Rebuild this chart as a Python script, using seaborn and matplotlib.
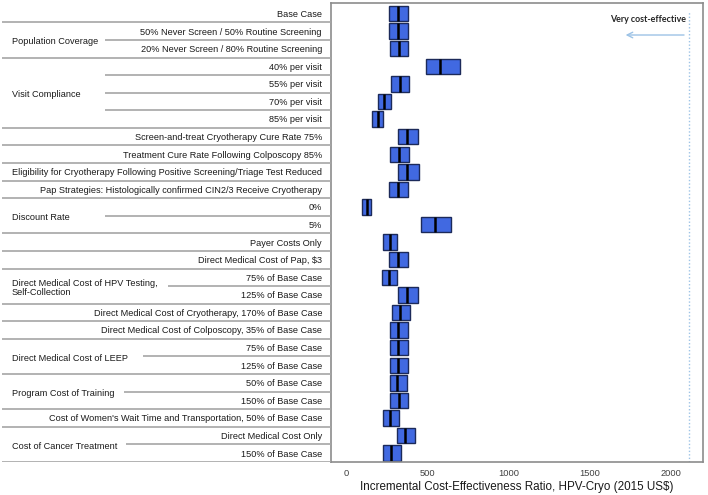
import pandas as pd
import seaborn as sns
import matplotlib.pyplot as plt

# one-way sensitivity analysis, HPV-Cryo ICER (2015 US$)
row_labels = [
    "Base Case",
    "50% Never Screen / 50% Routine Screening",
    "20% Never Screen / 80% Routine Screening",
    "40% per visit",
    "55% per visit",
    "70% per visit",
    "85% per visit",
    "Screen-and-treat Cryotherapy Cure Rate 75%",
    "Treatment Cure Rate Following Colposcopy 85%",
    "Eligibility for Cryotherapy Following Positive Screening/Triage Test Reduced",
    "Pap Strategies: Histologically confirmed CIN2/3 Receive Cryotherapy",
    "0%",
    "5%",
    "Payer Costs Only",
    "Direct Medical Cost of Pap, $3",
    "75% of Base Case",
    "125% of Base Case",
    "Direct Medical Cost of Cryotherapy, 170% of Base Case",
    "Direct Medical Cost of Colposcopy, 35% of Base Case",
    "75% of Base Case",
    "125% of Base Case",
    "50% of Base Case",
    "150% of Base Case",
    "Cost of Women's Wait Time and Transportation, 50% of Base Case",
    "Direct Medical Cost Only",
    "150% of Base Case",
]
row_groups = [
    None,
    "Population Coverage", "Population Coverage",
    "Visit Compliance", "Visit Compliance", "Visit Compliance", "Visit Compliance",
    None, None, None, None,
    "Discount Rate", "Discount Rate",
    None, None,
    "Direct Medical Cost of HPV Testing,\nSelf-Collection",
    "Direct Medical Cost of HPV Testing,\nSelf-Collection",
    None, None,
    "Direct Medical Cost of LEEP", "Direct Medical Cost of LEEP",
    "Program Cost of Training", "Program Cost of Training",
    None,
    "Cost of Cancer Treatment", "Cost of Cancer Treatment",
]
icer_low = [263, 263, 269, 489, 273, 195, 154, 317, 267, 317, 263, 96, 458,
            226, 263, 218, 315, 280, 265, 265, 265, 265, 269, 224, 310, 224]
icer_base = [316, 316, 321, 577, 329, 230, 191, 374, 321, 374, 316, 123, 545,
             267, 316, 261, 374, 329, 318, 318, 318, 312, 321, 267, 362, 273]
icer_high = [376, 376, 376, 697, 386, 275, 222, 442, 383, 448, 376, 152, 645,
             312, 376, 312, 438, 391, 376, 376, 376, 372, 380, 323, 421, 335]
threshold = 2115  # very cost-effective threshold

# where the in-group separator starts (pixels from the table's left edge)
group_line_start = {
    "Population Coverage": 103,
    "Visit Compliance": 103,
    "Discount Rate": 103,
    "Direct Medical Cost of HPV Testing,\nSelf-Collection": 166,
    "Direct Medical Cost of LEEP": 141,
    "Program Cost of Training": 122,
    "Cost of Cancer Treatment": 124,
}

# low, low, base, high, high -> box spans low..high, median = base case
rows = []
for i in range(len(row_labels)):
    for v in (icer_low[i], icer_low[i], icer_base[i], icer_high[i], icer_high[i]):
        rows.append({"row": i, "icer": v})
df = pd.DataFrame(rows)
n = len(row_labels)

sns.set_style("white")
plt.rcParams["font.family"] = ["Liberation Sans", "DejaVu Sans"]

fig = plt.figure(figsize=(7.08, 4.95), dpi=100)
ax = fig.add_axes([331 / 708, 1 - 462 / 495, (703 - 331) / 708, (462 - 3) / 495])
sns.boxplot(data=df, x="icer", y="row", orient="h", order=list(range(n)),
            whis=(0, 100), showcaps=False, width=0.88, saturation=1,
            color="#4169e1", linecolor="#1c2a5a", linewidth=1,
            medianprops=dict(color="black", linewidth=1.8), fliersize=0, ax=ax)

ax.set_xlim(-97, 2200)
ax.set_ylim(n - 0.5, -0.6)
ax.set_yticks([])
ax.set_ylabel("")
ax.set_xticks([0, 500, 1000, 1500, 2000])
ax.tick_params(axis="x", length=0, labelsize=6.7, labelcolor="#404040", pad=5)
ax.set_xlabel("Incremental Cost-Effectiveness Ratio, HPV-Cryo (2015 US$)",
              fontsize=8.4, color="#1a1a1a", labelpad=2)
for s in ax.spines.values():
    s.set_color("#8c8c8c")
    s.set_linewidth(1.2)

ax.axvline(threshold, ymin=0, ymax=0.98, color="#9dc3e6", lw=1, ls=(0, (1, 1.5)))
ax.annotate("", xy=(1705, 1.22), xytext=(2100, 1.22),
            arrowprops=dict(arrowstyle="->", color="#9dc3e6", lw=1))
ax.text(2094, 0.33, "Very cost-effective", ha="right", va="center",
        fontsize=6.4, fontweight="bold", family=["Lato", "DejaVu Sans"])

# label table on the left
tax = fig.add_axes([2 / 708, 1 - 462 / 495, (331 - 2) / 708, (462 - 3) / 495])
tax.set_xlim(0, 329)
tax.set_ylim(n - 0.5, -0.6)
tax.axis("off")

line_kw = dict(color="#a6a6a6", lw=1.2)
for i in range(n):
    g = row_groups[i]
    tax.text(320, i + 0.05, row_labels[i], ha="right", va="center", fontsize=6.6, color="#1a1a1a")
    if i < n - 1 and g is not None and row_groups[i + 1] == g:
        tax.hlines(i + 0.5, group_line_start[g], 329, **line_kw)
    else:
        tax.hlines(i + 0.5, 0, 329, **line_kw)

seen = []
for g in row_groups:
    if g is not None and g not in seen:
        seen.append(g)
        idx = [i for i in range(n) if row_groups[i] == g]
        tax.text(10, sum(idx) / len(idx) + 0.1, g, ha="left", va="center",
                 fontsize=6.6, color="#1a1a1a", linespacing=1.1)

fig.savefig("out.png", dpi=100)
